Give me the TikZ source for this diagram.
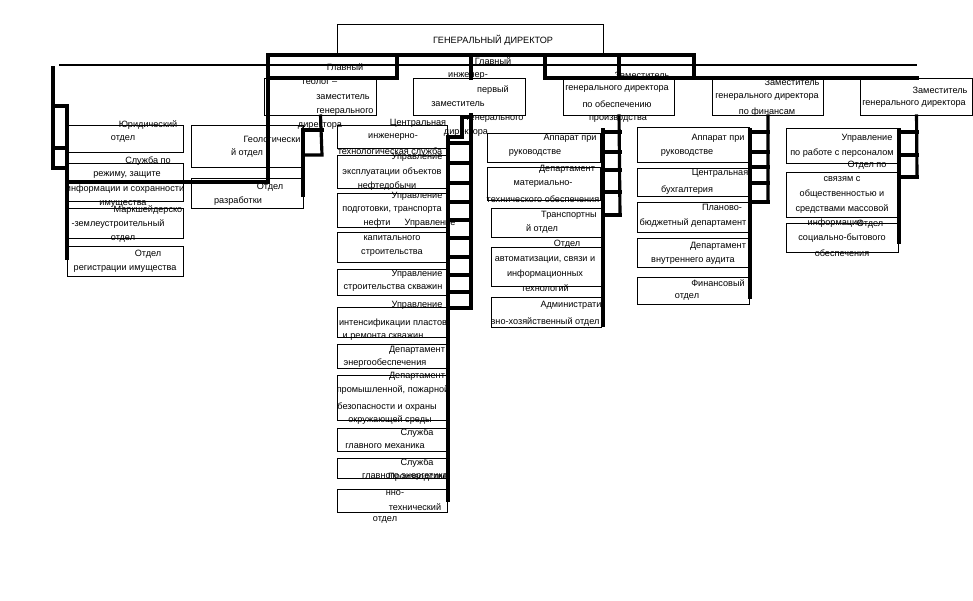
\documentclass[tikz,border=0pt]{standalone}
\usepackage{fontspec}
\setmainfont{Liberation Sans}

\begin{document}
\begin{tikzpicture}[x=0.02cm, y=-0.02cm,
  box/.style={draw, fill=white, line width=0.6pt, inner sep=0pt, anchor=north west},
  txt/.style={font=\fontsize{5.2}{6}\selectfont, inner sep=0pt},
  bus/.style={line width=1.8pt, line cap=rect}]
  \useasboundingbox (0,0) rectangle (973,600);

  \draw[line width=0.6pt] (59,65) -- (917,65);

  \foreach \n/\a/\b/\w/\h in {gd/337/24/266/30, gg/264/78/112/37, gi/413/78/112/37,
      zp/563/78/111/37, zf/712/78/111/37, zk/860/78/112/37,
      ur/67/125/116/27, sr/67/163/116/38, mz/67/208/116/30, ri/67/246/116/30,
      go/191/125/112/42, ot/191/178/112/30,
      c1/337/125/110/23, c2/337/155/110/33, c3/337/193/110/34, c4/337/232/110/30,
      c5/337/269/110/26, c6/337/307/110/30, c7/337/344/110/24, c8/337/375/110/45,
      c9/337/428/110/23, c10/337/458/110/20, c11/337/489/110/23,
      p1/487/133/113/29, p2/487/167/113/33, p3/491/208/110/29, p4/491/247/110/39,
      p5/491/297/110/30,
      f1/637/127/112/35, f2/637/168/112/28, f3/637/202/112/30, f4/637/238/112/29,
      f5/637/277/112/27,
      k1/786/128/112/35, k2/786/172/112/45, k3/786/223/112/29}
    \node[box, minimum width={\w*0.02cm}, minimum height={\h*0.02cm}] (\n) at (\a,\b) {};

  \draw[bus] (268,55) -- (694,55) -- (694,78);
  \draw[bus] (268,78) -- (397,78) -- (397,55);
  \draw[bus] (545,55) -- (545,78) -- (917,78);
  \draw[bus] (619,55) -- (619,78);
  \draw[bus] (471,55) -- (471,78);
  \draw[bus] (268,55) -- (268,182) -- (67,182);

  \draw[bus] (53,68) -- (53,168) -- (67,168);
  \draw[bus] (53,106) -- (67,106) -- (67,258);
  \draw[bus] (53,148) -- (67,148);

  \draw[bus] (gg.south) -- (322,155) -- (303,155);
  \draw[bus] (322,130) -- (303,130) -- (303,195);

  \draw[bus] (471,115) -- (471,308);
  \draw[bus] (471,117) -- (462,117) -- (462,137) -- (448,137) -- (448,500);
  \foreach \y in {143,163,183,202,220,238,257,275,292,308}
    \draw[bus] (448,\y) -- (471,\y);

  \draw[bus] (zp.south) -- (620,215);
  \draw[bus] (603,130) -- (603,325);
  \foreach \y in {132,152,170,192,215}
    \draw[bus] (603,\y) -- (620,\y);

  \draw[bus] (zf.south) -- (768,202);
  \draw[bus] (750,130) -- (750,297);
  \foreach \y in {132,152,167,183,202}
    \draw[bus] (750,\y) -- (768,\y);

  \draw[bus] (zk.south) -- (917,177);
  \draw[bus] (899,130) -- (899,242);
  \foreach \y in {132,155,177}
    \draw[bus] (899,\y) -- (917,\y);

  \foreach \x/\y/\t in {493/40/ГЕНЕРАЛЬНЫЙ ДИРЕКТОР,
      345/67/Главный, 320/82/геолог –, 343/97/заместитель, 345/112/генерального, 320/126/директора,
      493/61/Главный, 468/76/инженер-, 493/90/первый, 458/104/заместитель, 495/119/генерального,
      466/133/директора,
      642/75/Заместитель, 617/89/генерального директора, 617/104/по обеспечению, 618/119/производства,
      792/82/Заместитель, 767/97/генерального директора, 767/112/по финансам,
      940/90/Заместитель, 914/104/генерального директора}
    \node[txt] (h-\x-\y) at (\x,\y) {\t};

  \foreach \x/\y/\t in {148/125/Юридический, 123/139/отдел, 148/161/Служба по,
      127/175/{режиму, защите}, 125/189/информации и сохранности, 123/204/имущества,
      148/210/Маркшейдерско, 118/224/-землеустроительный, 123/239/отдел,
      148/254/Отдел, 125/269/регистрации имущества,
      272/139/Геологически, 247/153/й отдел, 270/187/Отдел, 238/201/разработки}
    \node[txt] (l-\x-\y) at (\x,\y) {\t};

  \foreach \x/\y/\t in {418/123/Центральная, 393/137/инженерно-, 390/152/технологическая служба,
      417/157/Управление, 392/172/эксплуатации объектов, 387/186/нефтедобычи,
      417/196/Управление, 392/210/{подготовки, транспорта}, 377/223/нефти, 430/223/Управление,
      392/238/капитального, 392/253/строительства,
      417/274/Управление, 393/288/строительства скважин,
      417/305/Управление, 393/323/интенсификации пластов, 383/337/и ремонта скважин,
      417/350/Департамент, 385/363/энергообеспечения,
      417/376/Департамент, 393/390/{промышленной, пожарной}, 387/407/безопасности и охраны,
      390/420/окружающей среды,
      417/433/Служба, 385/446/главного механика,
      417/463/Служба, 405/477/главного энергетика, 418/477/Производстве,
      395/493/нно-, 415/507/технический, 385/520/отдел}
    \node[txt] (c-\x-\y) at (\x,\y) {\t};

  \foreach \x/\y/\t in {570/138/Аппарат при, 535/153/руководстве, 567/169/Департамент,
      543/184/материально-, 543/199/технического обеспечения, 569/215/Транспортны, 542/229/й отдел,
      567/244/Отдел, 545/260/{автоматизации, связи и}, 545/274/информационных, 545/288/технологий,
      571/305/Администрати, 545/322/вно-хозяйственный отдел,
      718/138/Аппарат при, 687/153/руководстве, 720/173/Центральная, 687/190/бухгалтерия,
      722/207/Планово-, 693/223/бюджетный департамент, 718/246/Департамент,
      693/261/внутреннего аудита, 718/283/Финансовый, 687/297/отдел,
      867/138/Управление, 842/153/по работе с персоналом, 867/165/Отдел по, 842/179/связям с,
      842/194/общественностью и, 842/209/средствами массовой, 835/223/информации, 870/224/Отдел,
      842/238/социально-бытового, 842/253/обеспечения}
    \node[txt] (r-\x-\y) at (\x,\y) {\t};
\end{tikzpicture}
\end{document}
